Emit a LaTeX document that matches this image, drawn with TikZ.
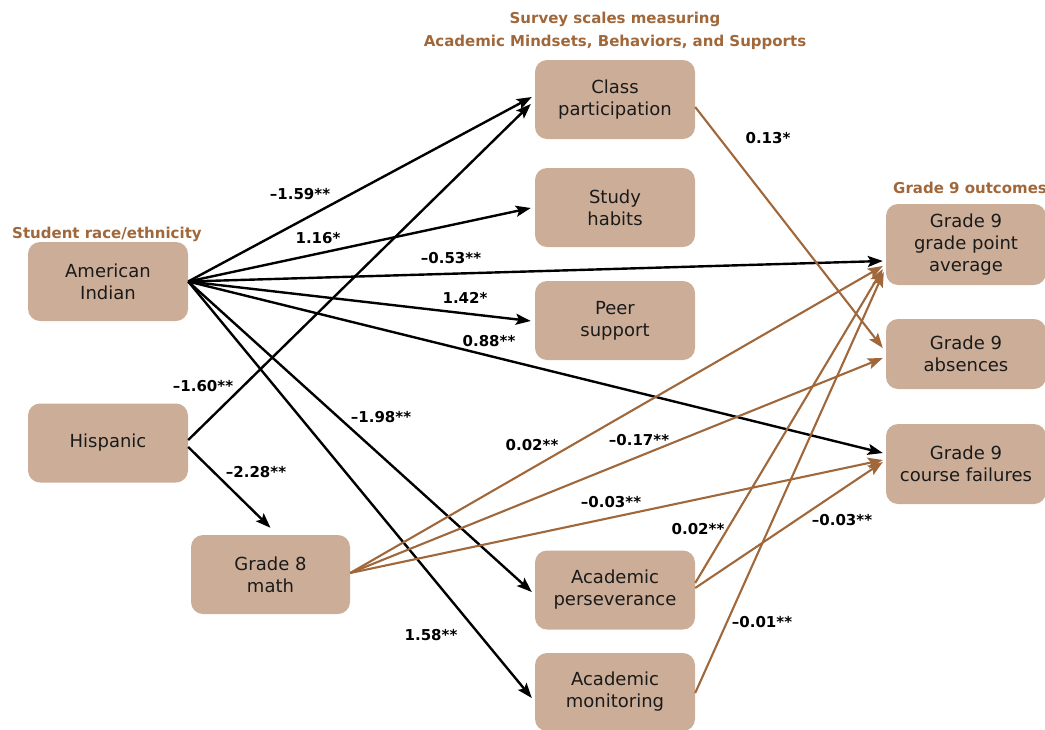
\documentclass[tikz,border=0pt]{standalone}
\usepackage{fontspec}
\setmainfont{DejaVu Sans}
\usetikzlibrary{arrows.meta}
\definecolor{boxfill}{HTML}{CCAE98}
\definecolor{rust}{HTML}{A0673A}
\definecolor{ink}{HTML}{1A1A1A}
\begin{document}
\begin{tikzpicture}[x=1pt,y=-1pt,
  box/.style={fill=boxfill, rounded corners=12pt, minimum width=160pt,
    minimum height=79pt, align=center, text=ink, inner sep=0pt,
    font=\fontsize{18}{22}\selectfont},
  hdr/.style={text=rust, inner sep=0pt, align=center,
    font=\bfseries\fontsize{15}{23}\selectfont},
  coef/.style={inner sep=0pt, font=\bfseries\fontsize{15}{16}\selectfont},
  tip/.style={-{Stealth[length=15pt,width=11pt,inset=3pt]}},
  blk/.style={tip, draw=black, line width=2.4pt},
  brn/.style={tip, draw=rust, line width=2.1pt},
]
\useasboundingbox (0,0) rectangle (1045,729);

% group headings
\node[hdr, anchor=west] (hrace) at (12,234) {Student race/ethnicity};
\node[hdr] (hsurvey) at (615,30.5) {Survey scales measuring\\Academic Mindsets, Behaviors, and Supports};
\node[hdr, anchor=west] (hout) at (893,188) {Grade 9 outcomes};

% predictors
\node[box] (ai)   at (108,281.5) {American\\Indian};
\node[box] (hisp) at (108,443)   {Hispanic};
\node[box, minimum width=159pt] (g8) at (270.5,574.5) {Grade 8\\math};

% survey scales
\node[box] (cp) at (615,99.5)  {Class\\participation};
\node[box] (sh) at (615,207.5) {Study\\habits};
\node[box] (ps) at (615,320.5) {Peer\\support};
\node[box] (ap) at (615,590)   {Academic\\perseverance};
\node[box, minimum height=78pt] (am) at (615,692) {Academic\\monitoring};

% outcomes
\node[box, minimum height=81pt] (gpa) at (966,244.5) {Grade 9\\grade point\\average};
\node[box, minimum height=70pt] (abs) at (966,354)   {Grade 9\\absences};
\node[box, minimum height=80pt] (cf)  at (966,464)   {Grade 9\\course failures};

% paths from race/ethnicity
\draw[blk] (ai.east) -- ([xshift=-3pt,yshift=2.5pt]cp.west);
\draw[blk] ([yshift=3pt]hisp.east) -- ([xshift=-4pt,yshift=-4.5pt]cp.west);
\draw[blk] (ai.east) -- ([xshift=-4pt,yshift=-0.5pt]sh.west);
\draw[blk] (ai.east) -- ([xshift=-3pt,yshift=-16.5pt]gpa.west);
\draw[blk] (ai.east) -- ([xshift=-4pt,yshift=-0.5pt]ps.west);
\draw[blk] (ai.east) -- ([xshift=-3pt,yshift=11pt]cf.west);
\draw[blk] (ai.east) -- ([xshift=-3pt,yshift=-2pt]ap.west);
\draw[blk] (ai.east) -- ([xshift=-3pt,yshift=-6pt]am.west);
\draw[blk] ([yshift=-4pt]hisp.east) -- ([yshift=7pt]g8.north);

% paths to grade 9 outcomes
\draw[brn] ([yshift=-7.5pt]cp.east) -- ([xshift=-3pt,yshift=6pt]abs.west);
\draw[brn] ([yshift=1.5pt]g8.east) -- ([xshift=-3pt,yshift=-21.5pt]gpa.west);
\draw[brn] ([yshift=1.5pt]g8.east) -- ([xshift=-3pt,yshift=-4pt]abs.west);
\draw[brn] ([yshift=1.5pt]g8.east) -- ([xshift=-3pt,yshift=4pt]cf.west);
\draw[brn] ([yshift=7pt]ap.east) -- ([xshift=-3pt,yshift=-24.5pt]gpa.west);
\draw[brn] ([yshift=2pt]ap.east) -- ([xshift=-3pt,yshift=2pt]cf.west);
\draw[brn] ([yshift=-1pt]am.east) -- ([xshift=-2pt,yshift=-27.5pt]gpa.west);

% path coefficients
\node[coef] (c1)  at (300,194) {–1.59**};
\node[coef] (c2)  at (318,238) {1.16*};
\node[coef] (c3)  at (451,258) {–0.53**};
\node[coef] (c4)  at (465,298) {1.42*};
\node[coef] (c5)  at (489,341) {0.88**};
\node[coef] (c6)  at (203,386) {–1.60**};
\node[coef] (c7)  at (381,417) {–1.98**};
\node[coef] (c8)  at (256,472) {–2.28**};
\node[coef] (c9)  at (532,445) {0.02**};
\node[coef] (c10) at (639,440) {–0.17**};
\node[coef] (c11) at (611,502) {–0.03**};
\node[coef] (c12) at (698,529) {0.02**};
\node[coef] (c13) at (842,520) {–0.03**};
\node[coef] (c14) at (762,622) {–0.01**};
\node[coef] (c15) at (431,635) {1.58**};
\node[coef] (c16) at (768,138) {0.13*};
\end{tikzpicture}
\end{document}
